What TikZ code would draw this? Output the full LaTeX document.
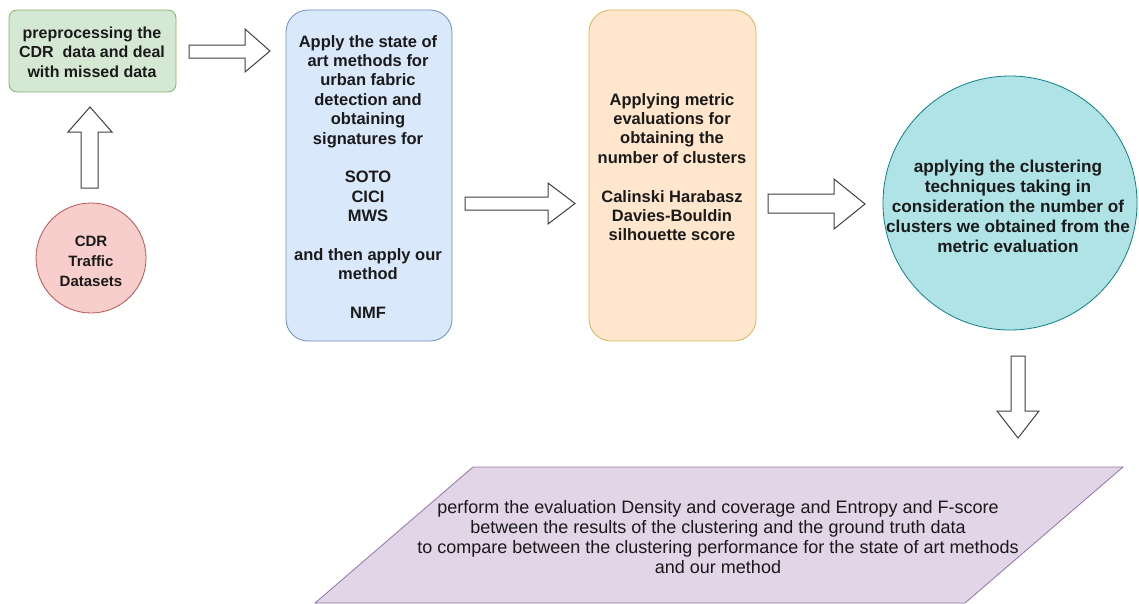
\documentclass[tikz,border=0pt]{standalone}
\usepackage{fontspec}
\setmainfont{Liberation Sans}
\usetikzlibrary{shapes.geometric}
\definecolor{gfill}{HTML}{D5E8D4}\definecolor{gdraw}{HTML}{82B366}
\definecolor{bfill}{HTML}{DAE8FC}\definecolor{bdraw}{HTML}{6C8EBF}
\definecolor{ofill}{HTML}{FFE6CC}\definecolor{odraw}{HTML}{D6B656}
\definecolor{rfill}{HTML}{F8CECC}\definecolor{rdraw}{HTML}{B85450}
\definecolor{tfill}{HTML}{B0E3E6}\definecolor{tdraw}{HTML}{0E8088}
\definecolor{pfill}{HTML}{E1D5E7}\definecolor{pdraw}{HTML}{9673A6}
\definecolor{txt}{HTML}{1A1A1A}
\tikzset{
  boxtext/.style={text=txt, align=center, font=\fontsize{16.5}{19.4}\selectfont\bfseries, inner sep=0pt},
  blockarrow/.style={draw=black!75, fill=white, line width=1pt, line join=miter},
}
\begin{document}
\begin{tikzpicture}[x=1pt,y=-1pt]
\useasboundingbox (0,0) rectangle (1139,603);
% parallelogram
\path[fill=pfill, draw=pdraw, line width=0.8pt] (473,467) -- (1123,467) -- (965,603) -- (315,603) -- cycle;
\node[text=txt, align=center, inner sep=0pt, font=\fontsize{18}{20.2}\selectfont] (eval) at (718,537)
 {perform the evaluation Density and coverage and Entropy and F-score\\
  between the results of the clustering and the ground truth data\\
  to compare between the clustering performance for the state of art methods\\
  and our method};
% boxes
\path[fill=gfill, draw=gdraw, line width=0.8pt, rounded corners=8pt] (9,10) rectangle (176,92);
\node[boxtext, font=\fontsize{16}{19.4}\selectfont\bfseries] (pre) at (92,52) {preprocessing the\\CDR\ \ data and deal\\with missed data};
\path[fill=bfill, draw=bdraw, line width=0.8pt, rounded corners=22pt] (286,10) rectangle (452,341);
\node[boxtext] (sota) at (368,177) {Apply the state of\\art methods for\\urban fabric\\detection and\\obtaining\\signatures for\\[19.4pt]SOTO\\CICI\\MWS\\[19.4pt]and then apply our\\method\\[19.4pt]NMF};
\path[fill=ofill, draw=odraw, line width=0.8pt, rounded corners=22pt] (589,10) rectangle (756,341);
\node[boxtext] (metric) at (672,167) {Applying metric\\evaluations for\\obtaining the\\number of clusters\\[19.4pt]Calinski Harabasz\\Davies-Bouldin\\silhouette score};
\path[fill=rfill, draw=rdraw, line width=0.8pt] (91,258) circle (55);
\node[boxtext, font=\fontsize{15}{20}\selectfont\bfseries] (cdr) at (91,261) {CDR\\Traffic\\Datasets};
\path[fill=tfill, draw=tdraw, line width=0.8pt] (1010,203) circle (127);
\node[boxtext, font=\fontsize{17.2}{20}\selectfont\bfseries] (clus) at (1008,206) {applying the clustering\\techniques taking in\\consideration the number of\\clusters we obtained from the\\metric evaluation};
% block arrows
\draw[blockarrow] (189,45) -- (245,45) -- (245,29) -- (270,51) -- (245,72) -- (245,58) -- (189,58) -- cycle;
\draw[blockarrow] (81,188) -- (81,132) -- (68,132) -- (90,107) -- (112,132) -- (98,132) -- (98,188) -- cycle;
\draw[blockarrow] (465,197) -- (548,197) -- (548,183) -- (575,203.5) -- (548,224) -- (548,210) -- (465,210) -- cycle;
\draw[blockarrow] (768,194) -- (834,194) -- (834,179) -- (865,204) -- (834,229) -- (834,213) -- (768,213) -- cycle;
\draw[blockarrow] (1011,356) -- (1025,356) -- (1025,411) -- (1039,411) -- (1018,438) -- (997,411) -- (1011,411) -- cycle;
\end{tikzpicture}
\end{document}
